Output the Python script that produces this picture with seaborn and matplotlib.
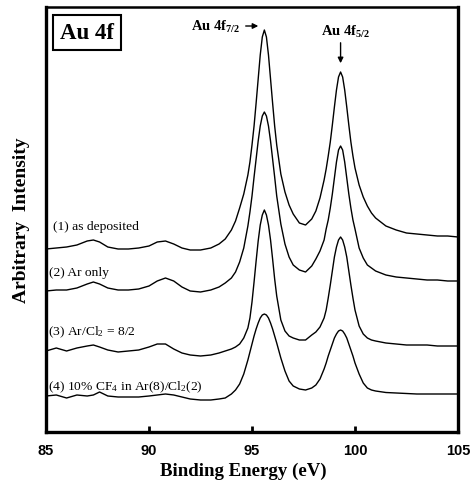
import matplotlib
matplotlib.use("Agg")
import matplotlib.pyplot as plt
import pandas as pd
import seaborn as sns

# binding energy grid (eV), shared by all four spectra
energy = [85.0, 85.5, 86.0, 86.5, 87.0, 87.3, 87.6, 88.0, 88.5, 89.0,
          89.5, 90.0, 90.4, 90.8, 91.2, 91.6, 92.0, 92.5, 93.0, 93.4,
          93.7, 94.0, 94.2, 94.4, 94.6, 94.8, 94.9, 95.0, 95.1, 95.2,
          95.3, 95.4, 95.5, 95.6, 95.7, 95.8, 95.9, 96.0, 96.1, 96.2,
          96.4, 96.6, 96.8, 97.0, 97.3, 97.6, 97.9, 98.1, 98.3, 98.5,
          98.6, 98.7, 98.8, 98.9, 99.0, 99.1, 99.2, 99.3, 99.4, 99.5,
          99.6, 99.7, 99.8, 99.9, 100.0, 100.2, 100.4, 100.6, 100.8, 101.0,
          101.5, 102.0, 102.5, 103.0, 103.5, 104.0, 104.5, 105.0]

# intensities (arbitrary units, curves already offset as in the figure)
as_deposited = [183, 184, 185, 187, 191, 192, 190, 185, 183, 183,
                184, 186, 190, 191, 188, 184, 182, 182, 184, 188,
                193, 202, 211, 224, 238, 257, 270, 287, 306, 329,
                353, 377, 395, 402, 395, 377, 353, 329, 306, 287,
                258, 240, 227, 218, 209, 207, 213, 221, 234, 252,
                263, 276, 290, 307, 325, 342, 355, 360, 355, 342,
                325, 307, 290, 276, 264, 247, 235, 226, 219, 214,
                206, 202, 199, 198, 197, 196, 196, 195]
ar_only = [141, 142, 142, 144, 148, 150, 148, 144, 142, 142,
           143, 146, 151, 154, 151, 145, 141, 140, 142, 145,
           149, 154, 160, 170, 184, 206, 220, 236, 255, 273,
           291, 306, 316, 320, 316, 306, 291, 273, 255, 236,
           208, 188, 175, 167, 162, 160, 166, 173, 181, 192,
           203, 212, 224, 238, 254, 270, 282, 286, 282, 270,
           254, 238, 224, 212, 203, 184, 174, 167, 164, 161,
           157, 155, 154, 153, 152, 152, 151, 151]
ar_cl2 = [81, 84, 81, 84, 86, 87, 85, 82, 80, 81,
          82, 85, 88, 88, 83, 79, 77, 76, 77, 79,
          81, 83, 85, 88, 94, 104, 114, 130, 150, 171,
          191, 207, 217, 222, 217, 207, 192, 173, 153, 136,
          112, 101, 96, 94, 92, 92, 97, 100, 105, 114,
          122, 134, 147, 161, 175, 185, 192, 195, 192, 185,
          175, 161, 147, 134, 122, 106, 98, 94, 92, 91,
          89, 88, 87, 87, 87, 86, 86, 86]
cf4_mix = [36, 37, 34, 37, 36, 37, 40, 36, 35, 35,
           35, 36, 37, 38, 37, 35, 33, 32, 32, 33,
           34, 38, 42, 48, 58, 72, 80, 88, 96, 103,
           109, 114, 117, 118, 117, 114, 109, 103, 96, 89,
           74, 61, 51, 46, 43, 42, 44, 47, 53, 63,
           69, 76, 82, 88, 94, 98, 101, 102, 101, 98,
           94, 88, 82, 76, 69, 58, 49, 44, 42, 41,
           39.5, 39, 38.5, 38, 38, 38, 38, 38]

sample_labels = ["(1) as deposited", "(2) Ar only",
                 "(3) Ar/Cl$_2$ = 8/2", "(4) 10% CF$_4$ in Ar(8)/Cl$_2$(2)"]
label_x = [85.34, 85.15, 85.12, 85.08]
label_y = [206, 160, 101, 46]
x_ticks = [85, 90, 95, 100, 105]

sns.set_style("ticks", {"axes.edgecolor": "black", "xtick.color": "black",
                        "ytick.color": "black", "text.color": "black",
                        "axes.labelcolor": "black"})
plt.rcParams["font.family"] = ["Liberation Serif", "DejaVu Serif"]
plt.rcParams["mathtext.fontset"] = "custom"
plt.rcParams["mathtext.rm"] = "Liberation Serif"
plt.rcParams["mathtext.bf"] = "Liberation Serif:bold"
plt.rcParams["mathtext.default"] = "regular"

frames = []
for name, vals in zip(sample_labels, [as_deposited, ar_only, ar_cl2, cf4_mix]):
    frames.append(pd.DataFrame({"energy": energy, "intensity": vals, "sample": name}))
df = pd.concat(frames, ignore_index=True)

fig = plt.figure(figsize=(4.72, 4.85), dpi=100)
ax = fig.add_axes([46 / 472, 1 - 433 / 485, 412 / 472, 425 / 485])

for name in sample_labels:
    sns.lineplot(data=df[df["sample"] == name], x="energy", y="intensity",
                 color="black", linewidth=1.0, ax=ax, legend=False)

ax.set_xlim(85, 105)
ax.set_ylim(0, 425)
ax.set_xticks(x_ticks)
ax.set_xticklabels([str(t) for t in x_ticks], family="Liberation Sans",
                   fontweight="bold", fontsize=10.5)
ax.set_yticks([])
ax.tick_params(axis="x", direction="in", length=4, width=2, pad=8)
for side in ["left", "bottom", "right"]:
    ax.spines[side].set_linewidth(2.4)
ax.spines["top"].set_linewidth(1.8)

ax.set_xlabel("Binding Energy (eV)", fontsize=13.6, fontweight="bold")
ax.xaxis.set_label_coords(0.48, -0.07)
ax.set_ylabel("Arbitrary  Intensity", fontsize=14, fontweight="bold")
ax.yaxis.set_label_coords(-0.039, 0.50)

ax.text(85.68, 399.5, "Au 4f", fontsize=16.5, fontweight="bold", va="center",
        bbox=dict(boxstyle="square,pad=0.3", fc="white", ec="black", lw=1.5))

for lab, lx, ly in zip(sample_labels, label_x, label_y):
    ax.text(lx, ly, lab, fontsize=9.7, va="center")

ax.annotate("", xy=(95.44, 406), xytext=(94.56, 406),
            arrowprops=dict(arrowstyle="-|>", color="black", lw=1, mutation_scale=8))
ax.text(94.42, 406, "Au 4f$_{7/2}$", fontsize=10.5, fontweight="bold", ha="right", va="center")
ax.annotate("", xy=(99.3, 366), xytext=(99.3, 392),
            arrowprops=dict(arrowstyle="-|>", color="black", lw=1, mutation_scale=8))
ax.text(99.55, 401, "Au 4f$_{5/2}$", fontsize=10.5, fontweight="bold", ha="center", va="center")

fig.savefig("out.png", dpi=100)
